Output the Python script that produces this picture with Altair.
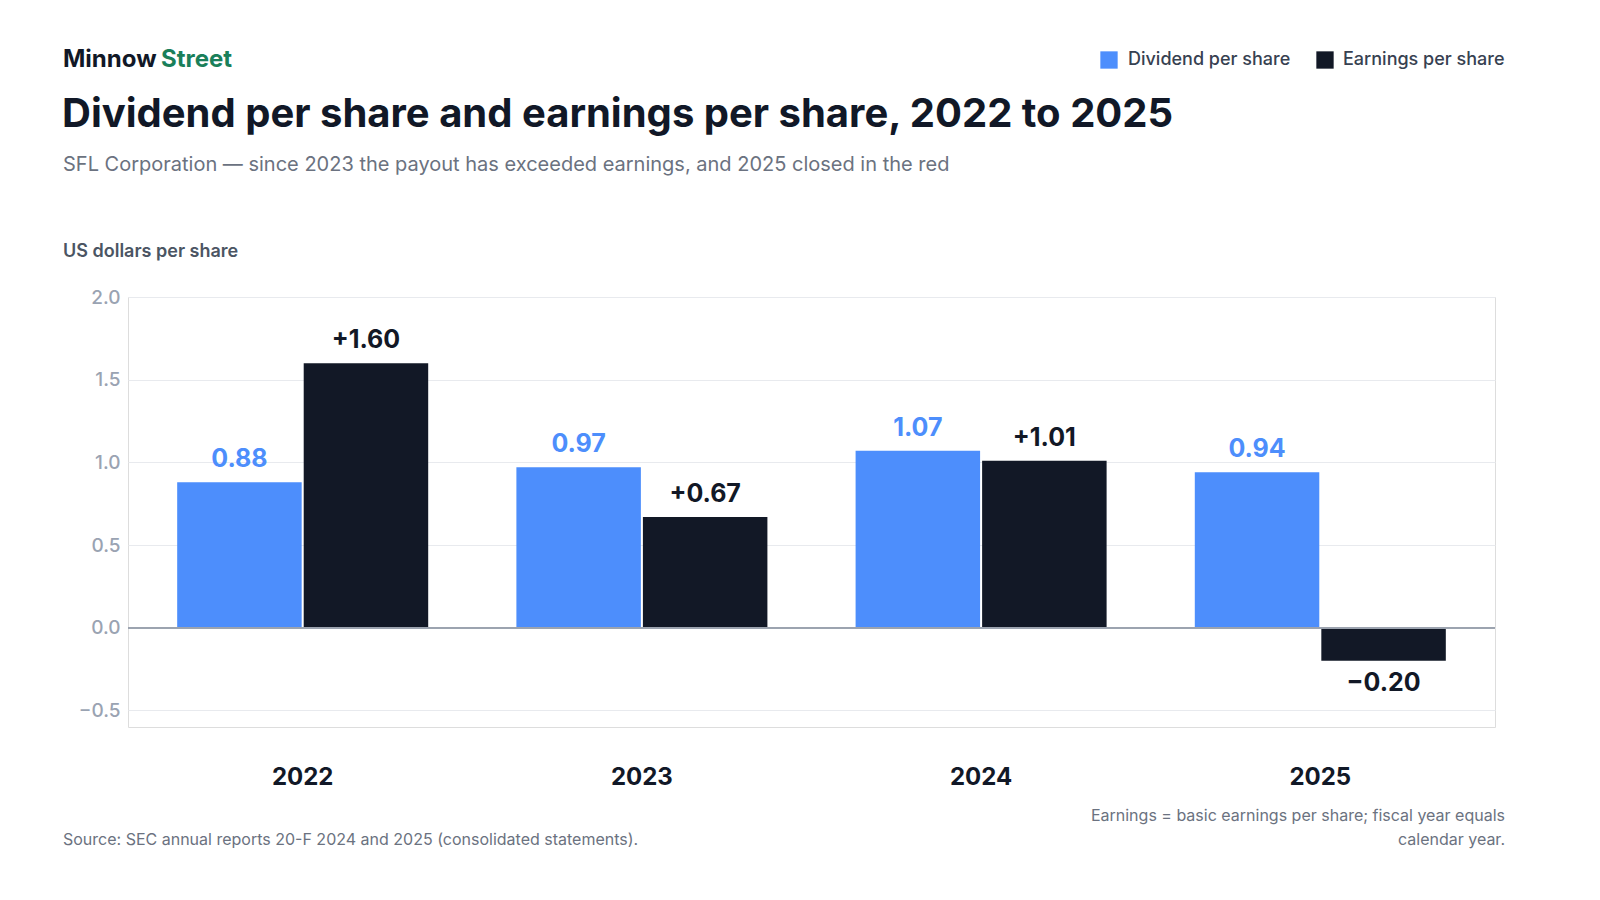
import pandas as pd
import altair as alt

years = ["2022", "2023", "2024", "2025"]
dividend = [0.88, 0.97, 1.07, 0.94]
earnings = [1.60, 0.67, 1.01, -0.20]
series = ["Dividend per share", "Earnings per share"]
colors = ["#4d8efc", "#121826"]

rows = []
for y, d, e in zip(years, dividend, earnings):
    rows.append({"year": y, "series": series[0], "value": d, "label": f"{d:.2f}"})
    sign = "+" if e >= 0 else "\u2212"
    rows.append({"year": y, "series": series[1], "value": e, "label": f"{sign}{abs(e):.2f}"})
df = pd.DataFrame(rows)

FONT = "Inter"
W, H = 1367, 430

x = alt.X("year:N", title=None, sort=years,
          scale=alt.Scale(paddingInner=0.26, paddingOuter=0.145),
          axis=alt.Axis(labelAngle=0, labelFontSize=24, labelFontWeight="bold",
                        labelColor="#111827", labelPadding=38, ticks=False, domain=False))
xo = alt.XOffset("series:N", sort=series, scale=alt.Scale(paddingInner=0.016))
y = alt.Y("value:Q", title=None, scale=alt.Scale(domain=[-0.5, 2.0]),
          axis=alt.Axis(values=[-0.5, 0, 0.5, 1.0, 1.5, 2.0], format=".1f",
                        labelFontSize=19, labelFontWeight=500, labelColor="#9aa3b2",
                        labelPadding=8, gridColor="#e8eaee", ticks=False, domain=False,
                        labelExpr="replace(datum.label, '-', '\u2212')"))
color = alt.Color("series:N", scale=alt.Scale(domain=series, range=colors), legend=None)

base = alt.Chart(df)
bars = base.mark_bar().encode(x=x, xOffset=xo, y=y, color=color)
zero = base.mark_rule(color="#9ca3af", strokeWidth=1.5).encode(y=alt.datum(0))
pos = base.transform_filter("datum.value >= 0").mark_text(
    baseline="bottom", dy=-10, fontSize=25, fontWeight="bold", font=FONT
).encode(x=x, xOffset=xo, y=y, text="label:N", color=color)
neg = base.transform_filter("datum.value < 0").mark_text(
    baseline="top", dy=10, fontSize=25, fontWeight="bold", font=FONT
).encode(x=x, xOffset=xo, y=y, text="label:N", color=color)


def txt(s, px, py, size, color="#111827", weight="normal", align="left", baseline="middle"):
    return alt.Chart(pd.DataFrame({"t": [s]})).mark_text(
        align=align, baseline=baseline, fontSize=size, fontWeight=weight,
        color=color, font=FONT
    ).encode(x=alt.value(px), y=alt.value(py), text="t:N")


def sq(px, py, c):
    return alt.Chart(pd.DataFrame({"t": [0]})).mark_square(
        size=300, color=c, opacity=1, cornerRadius=3
    ).encode(x=alt.value(px), y=alt.value(py))


annots = [
    txt("Minnow", -65, -237, 24, weight="bold"),
    txt("Street", 33, -237, 24, color="#1a7f5a", weight="bold"),
    txt("Dividend per share and earnings per share, 2022 to 2025", -66, -182, 40, weight="bold"),
    txt("SFL Corporation \u2014 since 2023 the payout has exceeded earnings, and 2025 closed in the red",
        -65, -132, 20, color="#6b7280"),
    txt("US dollars per share", -65, -45, 18, color="#4b5563", weight=600),
    sq(981, -237, colors[0]), txt(series[0], 1000, -237, 18, color="#374151", weight=500),
    sq(1197, -237, colors[1]), txt(series[1], 1215, -237, 18, color="#374151", weight=500),
    txt("Source: SEC annual reports 20-F 2024 and 2025 (consolidated statements).",
        -65, 543, 16, color="#6b7280"),
    txt("Earnings = basic earnings per share; fiscal year equals", 1377, 519, 16,
        color="#6b7280", align="right"),
    txt("calendar year.", 1377, 543, 16, color="#6b7280", align="right"),
]

chart = alt.layer(bars, zero, pos, neg, *annots).properties(
    width=W, height=H,
    autosize=alt.AutoSizeParams(type="none"),
    padding={"left": 120, "top": 289, "right": 40, "bottom": 125},
).configure_view(strokeWidth=0, stroke="transparent").configure(font=FONT, background="white")

chart.save("out.html", embed_options={"renderer": "svg", "actions": False})
